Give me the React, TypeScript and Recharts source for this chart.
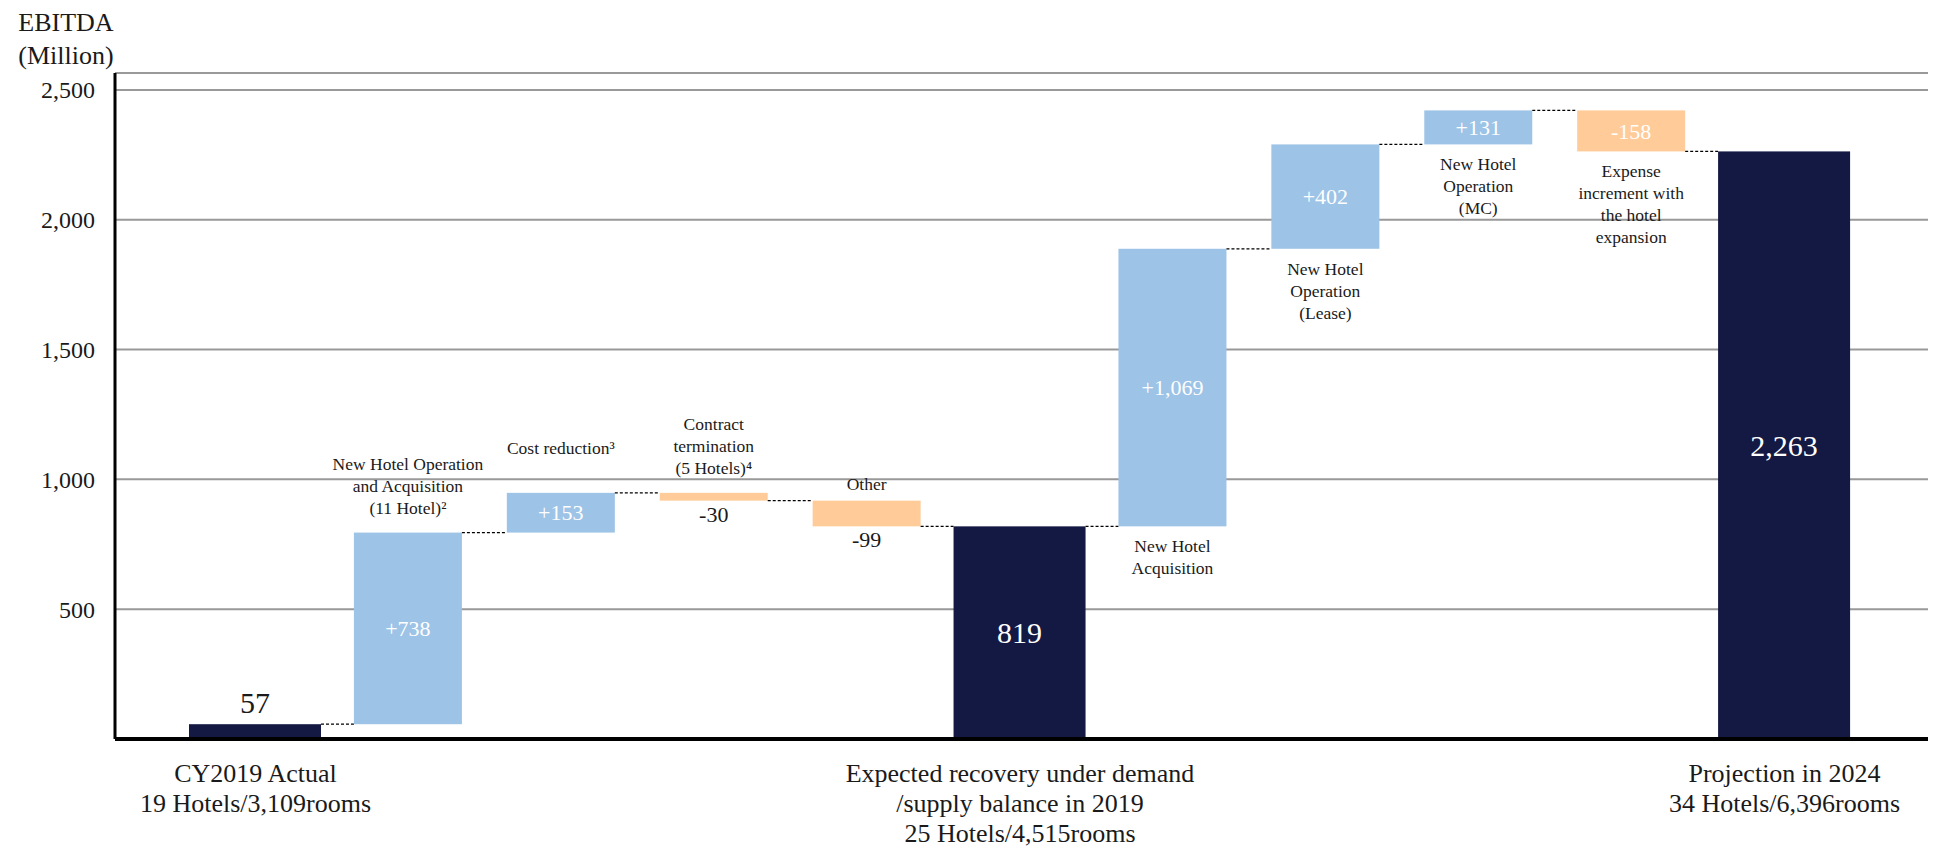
import React from 'react'
import { BarChart, Bar, XAxis, YAxis, CartesianGrid } from 'recharts'

// waterfall steps, left to right
const categories = [
  'CY2019 Actual',
  'New Hotel Operation and Acquisition',
  'Cost reduction',
  'Contract termination',
  'Other',
  'Expected recovery 2019',
  'New Hotel Acquisition',
  'New Hotel Operation (Lease)',
  'New Hotel Operation (MC)',
  'Expense increment',
  'Projection in 2024',
]
const values = [57, 738, 153, -30, -99, 819, 1069, 402, 131, -158, 2263]
const kinds = ['total', 'delta', 'delta', 'delta', 'delta', 'total', 'delta', 'delta', 'delta', 'delta', 'total']
const valueLabels = ['57', '+738', '+153', '-30', '-99', '819', '+1,069', '+402', '+131', '-158', '2,263']

const noteLines = [
  [],
  ['New Hotel Operation', 'and Acquisition', '(11 Hotel)²'],
  ['Cost reduction³'],
  ['Contract', 'termination', '(5 Hotels)⁴'],
  ['Other'],
  [],
  ['New Hotel', 'Acquisition'],
  ['New Hotel', 'Operation', '(Lease)'],
  ['New Hotel', 'Operation', '(MC)'],
  ['Expense', 'increment with', 'the hotel', 'expansion'],
  [],
]
const notePlaces = ['', 'above', 'above', 'above', 'above', '', 'below', 'below', 'below', 'below', '']

const bottomLines = [
  ['CY2019 Actual', '19 Hotels/3,109rooms'],
  [], [], [], [],
  ['Expected recovery under demand', '/supply balance in 2019', '25 Hotels/4,515rooms'],
  [], [], [], [],
  ['Projection in 2024', '34 Hotels/6,396rooms'],
]
const yTicks = [500, 1000, 1500, 2000, 2500]

const NAVY = '#131943'
const BLUE = '#9DC3E6'
const PEACH = '#FFCC99'
const FONT = '"Liberation Serif", "Times New Roman", serif'

const CHART_W = 1934
const CHART_H = 851
const Y_AXIS_W = 115
const MARGIN_R = 6
const PAD_L = 64
const PAD_R = 67
const STEP = (CHART_W - Y_AXIS_W - MARGIN_R - PAD_L - PAD_R) / categories.length
const DELTA_W = 108
const TOTAL_W = 132

// small per-label vertical nudges for the notes above bars
const noteNudge: Record<number, number> = { 2: -20, 4: 8 }

let running = 0
const data = categories.map((name, i) => {
  const v = values[i]
  let range: number[]
  if (kinds[i] === 'total') {
    range = [0, v]
    running = v
  } else {
    const start = running
    running += v
    range = [Math.min(start, running), Math.max(start, running)]
  }
  return { name, range, value: v, kind: kinds[i], idx: i }
})

const fmt = (v: number) => v.toLocaleString('en-US')

// eslint-disable-next-line @typescript-eslint/no-explicit-any
const WaterfallBar = (props: any) => {
  const { x, y, width, height, payload } = props
  const i: number = payload.idx
  const isTotal = payload.kind === 'total'
  const w = isTotal ? TOTAL_W : DELTA_W
  const cx = x + width / 2
  const bottom = y + height
  const negative = !isTotal && payload.value < 0
  const fill = isTotal ? NAVY : negative ? PEACH : BLUE
  const endY = negative ? bottom : y

  let connector = null
  if (i < categories.length - 1) {
    const nextW = kinds[i + 1] === 'total' ? TOTAL_W : DELTA_W
    connector = (
      <line
        x1={cx + w / 2}
        x2={cx + STEP - nextW / 2}
        y1={endY}
        y2={endY}
        stroke="#000"
        strokeWidth={1.3}
        strokeDasharray="3 2"
      />
    )
  }

  // value label
  const fs = isTotal ? 30 : 22
  let ly: number
  let lcolor = '#fff'
  if (height > 34) {
    ly = y + height / 2 + fs * 0.35
  } else if (negative) {
    ly = bottom + 21
    lcolor = '#1a1a1a'
  } else {
    ly = y - 11
    lcolor = '#1a1a1a'
  }

  const lines = noteLines[i]
  const place = notePlaces[i]
  const nudge = noteNudge[i] || 0

  return (
    <g>
      <rect x={cx - w / 2} y={y} width={w} height={height} fill={fill} />
      {connector}
      <text x={cx} y={ly} textAnchor="middle" fontFamily={FONT} fontSize={fs} fill={lcolor}>
        {valueLabels[i]}
      </text>
      {lines.map((t, k) => {
        const by = place === 'above'
          ? y - 19 + nudge - (lines.length - 1 - k) * 22
          : bottom + 26 + k * 22
        return (
          <text key={k} x={cx} y={by} textAnchor="middle" fontFamily={FONT} fontSize={17.5} fill="#1a1a1a">
            {t}
          </text>
        )
      })}
    </g>
  )
}

// eslint-disable-next-line @typescript-eslint/no-explicit-any
const BottomTick = (props: any) => {
  const { x, y, payload } = props
  const i = categories.indexOf(payload.value)
  const lines = i >= 0 ? bottomLines[i] : []
  return (
    <g>
      {lines.map((t, k) => (
        <text key={k} x={x} y={y + 43 + k * 30} textAnchor="middle" fontFamily={FONT} fontSize={26} fill="#1a1a1a">
          {t}
        </text>
      ))}
    </g>
  )
}

export default function App() {
  return (
    <div style={{ position: 'absolute', left: 0, top: 0, width: CHART_W, height: CHART_H, background: '#fff' }}>
      <div
        style={{
          position: 'absolute', left: 0, top: 6, width: 132, textAlign: 'center',
          fontFamily: FONT, fontSize: 26, lineHeight: '33px', color: '#1a1a1a',
        }}
      >
        EBITDA<br />(Million)
      </div>
      <BarChart
        width={CHART_W}
        height={CHART_H}
        data={data}
        margin={{ top: 73, right: MARGIN_R, left: 0, bottom: 0 }}
        barSize={DELTA_W}
      >
        <CartesianGrid vertical={false} stroke="#999" strokeWidth={2} />
        <XAxis
          dataKey="name"
          height={112}
          padding={{ left: PAD_L, right: PAD_R }}
          axisLine={{ stroke: '#000', strokeWidth: 4 }}
          tickLine={false}
          tickSize={0}
          tickMargin={0}
          interval={0}
          tick={<BottomTick />}
        />
        <YAxis
          width={Y_AXIS_W}
          domain={[0, 2565]}
          allowDataOverflow
          ticks={yTicks}
          tickFormatter={fmt}
          axisLine={{ stroke: '#000', strokeWidth: 3 }}
          tickLine={false}
          tickSize={0}
          tickMargin={20}
          tick={{ fontFamily: FONT, fontSize: 24, fill: '#1a1a1a' }}
        />
        <Bar dataKey="range" shape={<WaterfallBar />} isAnimationActive={false} />
      </BarChart>
    </div>
  )
}
